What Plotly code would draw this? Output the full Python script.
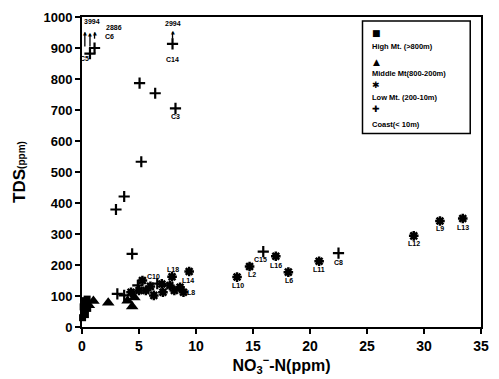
import plotly.graph_objects as go

# ---- data ----
high_x = [0.05, 0.15, 0.25, 0.1, 0.35, 0.2, 0.45, 0.3, 0.5]
high_y = [30, 45, 55, 65, 75, 85, 90, 40, 60]

mid_x = [0.6, 1.0, 2.3, 4.0, 4.4, 4.6]
mid_y = [70, 84, 78, 85, 66, 95]

low_x = [4.3, 5.0, 5.3, 5.6, 6.0, 6.3, 7.0, 7.1, 7.7, 7.9, 8.1, 8.6, 8.9, 9.4,
         13.6, 14.7, 17.0, 18.1, 20.8, 29.1, 31.4, 33.4]
low_y = [112, 118, 150, 118, 131, 102, 139, 112, 134, 162, 118, 128, 112, 179,
         161, 195, 228, 177, 212, 294, 342, 350]

coast_x = [0.7, 1.1, 2.98, 3.1, 3.7, 3.7, 4.4, 5.05, 5.2, 6.42, 7.94, 8.2,
           15.9, 22.5, 4.9, 6.6]
coast_y = [882, 900, 379, 107, 421, 102, 236, 787, 533, 754, 913, 705,
           243, 238, 134, 140]

# point labels
label_text = ["C3", "C14", "C15", "L16", "L2", "L10", "L6", "L11", "C8", "L12",
              "L9", "L13", "L18", "L14", "C10", "L8", "C5", "C6"]
label_x = [8.2, 7.94, 15.7, 17.0, 14.9, 13.7, 18.2, 20.8, 22.5, 29.1,
           31.4, 33.4, 8.0, 9.3, 6.3, 9.6, 0.25, 2.4]
label_y = [678, 862, 217, 200, 168, 135, 151, 186, 209, 268,
           317, 320, 185, 150, 163, 110, 866, 936]

# off-scale values with arrows
top_text = ["3994", "2886", "2994"]
top_x = [0.9, 2.8, 7.94]
top_y = [987, 966, 980]
arrow_x = [0.25, 0.7, 1.1, 7.94]
arrow_tail = [905, 905, 930, 930]
arrow_head = [950, 945, 950, 952]

font = "Liberation Sans, Arial, sans-serif"

fig = go.Figure()
fig.add_trace(go.Scatter(x=high_x, y=high_y, mode="markers", name="High Mt.(>800m)",
                         marker=dict(symbol="square", size=7, color="black"),
                         cliponaxis=False))
fig.add_trace(go.Scatter(x=mid_x, y=mid_y, mode="markers", name="Middle Mt(800-200m)",
                         marker=dict(symbol="triangle-up", size=11, color="black"),
                         cliponaxis=False))
fig.add_trace(go.Scatter(x=low_x, y=low_y, mode="markers", name="Low Mt.(200-10m)",
                         marker=dict(symbol="asterisk-open", size=8, color="black",
                                     line=dict(color="black", width=2.5)),
                         cliponaxis=False))
fig.add_trace(go.Scatter(x=coast_x, y=coast_y, mode="markers", name="Coast(< 10m)",
                         marker=dict(symbol="cross-thin-open", size=8, color="black",
                                     line=dict(color="black", width=2.2)),
                         cliponaxis=False))

ann = []
for t, x, y in zip(label_text, label_x, label_y):
    ann.append(dict(x=x, y=y, xref="x", yref="y", text="<b>%s</b>" % t, showarrow=False,
                    font=dict(family=font, size=7, color="black")))
for t, x, y in zip(top_text, top_x, top_y):
    ann.append(dict(x=x, y=y, xref="x", yref="y", text="<b>%s</b>" % t, showarrow=False,
                    font=dict(family=font, size=7, color="black")))

shapes = [dict(type="rect", xref="paper", yref="paper", x0=0.703, x1=0.973,
               y0=0.624, y1=0.987, line=dict(color="black", width=1.5))]
for x, y0, y1 in zip(arrow_x, arrow_tail, arrow_head):
    shapes.append(dict(type="line", xref="x", yref="y", x0=x, x1=x, y0=y0, y1=y1,
                       line=dict(color="black", width=1.3)))
    ann.append(dict(x=x, y=y1, xref="x", yref="y", text="▲", showarrow=False,
                    yanchor="middle", font=dict(family="DejaVu Sans", size=5, color="black")))

# custom legend (symbols above text, as in the reference)
leg_sym = ["■", "▲", "✱", "✚"]
leg_txt = ["High Mt. (>800m)", "Middle Mt(800-200m)", "Low Mt. (200-10m)", "Coast(< 10m)"]
leg_sym_y = [0.950, 0.856, 0.782, 0.702]
leg_txt_y = [0.904, 0.818, 0.739, 0.653]
for s, t, ys, yt in zip(leg_sym, leg_txt, leg_sym_y, leg_txt_y):
    ann.append(dict(x=0.738, y=ys, xref="paper", yref="paper", text=s, showarrow=False,
                    xanchor="center", yanchor="middle",
                    font=dict(family="DejaVu Sans", size=9, color="black")))
    ann.append(dict(x=0.722, y=yt, xref="paper", yref="paper", text="<b>%s</b>" % t,
                    showarrow=False, xanchor="left", yanchor="middle",
                    font=dict(family=font, size=7.5, color="black")))

fig.update_layout(
    width=499, height=379,
    margin=dict(l=82, r=10, t=15, b=50),
    plot_bgcolor="white", paper_bgcolor="white",
    showlegend=False,
    annotations=ann,
    shapes=shapes,
    font=dict(family=font, color="black"),
)
fig.update_xaxes(range=[0, 35], dtick=5, showgrid=False, zeroline=False,
                 showline=True, linecolor="black", linewidth=2, mirror=True,
                 ticks="outside", ticklen=5, tickwidth=1.5, tickcolor="black",
                 tickfont=dict(family=font, size=14, weight="bold"),
                 title=dict(text="<b>NO<sub>3</sub><sup>−</sup>-N(ppm)</b>",
                            font=dict(family=font, size=16), standoff=4))
fig.update_yaxes(range=[0, 1000], dtick=100, showgrid=False, zeroline=False,
                 showline=True, linecolor="black", linewidth=2, mirror=True,
                 ticks="outside", ticklen=5, tickwidth=1.5, tickcolor="black",
                 tickfont=dict(family=font, size=13, weight="bold"),
                 title=dict(text="<b>TDS<span style='font-size:10px'>(ppm)</span></b>",
                            font=dict(family=font, size=17), standoff=14))

fig.write_html("out.html")
